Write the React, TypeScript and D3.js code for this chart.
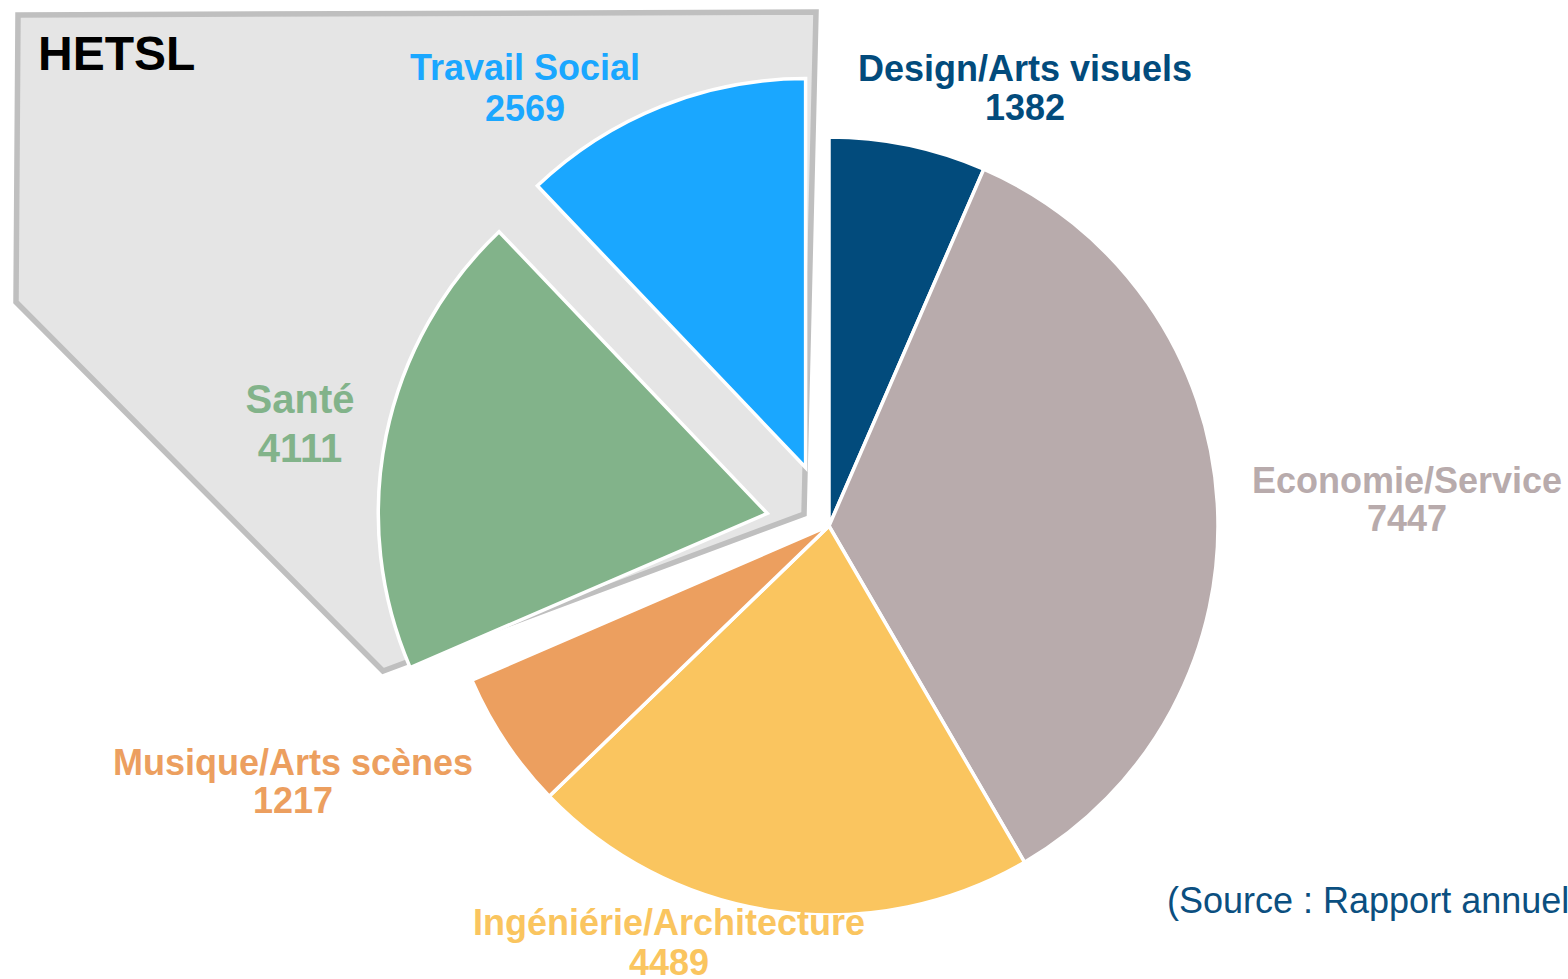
import React from "react";
import * as d3 from "d3";

const categories = [
  "Design/Arts visuels",
  "Economie/Service",
  "Ingéniérie/Architecture",
  "Musique/Arts scènes",
  "Santé",
  "Travail Social",
];
const values = [1382, 7447, 4489, 1217, 4111, 2569];
const exploded = [false, false, false, false, true, true];
const colors = ["#024B7C", "#B8ABAC", "#FAC55F", "#EC9F5F", "#82B38A", "#1AA7FF"];

const groupLabel = "HETSL";
const sourceText = "(Source : Rapport annuel";

// label layout: [centerX, baseline1, lineGap, fontSize]
const labelLayout: Record<string, [number, number, number, number]> = {
  "Design/Arts visuels": [1025, 81, 39, 36],
  "Economie/Service": [1407, 493, 38, 36],
  "Ingéniérie/Architecture": [669, 935, 40, 36],
  "Musique/Arts scènes": [293, 775, 38, 36],
  "Santé": [300, 413, 49, 40],
  "Travail Social": [525, 80, 41, 36],
};

const W = 1568;
const H = 979;
const CX = 829;
const CY = 526;
const R = 389;
const EXPLODE = 63;

const FONT = "'Liberation Sans', Arial, Helvetica, sans-serif";

export default function App() {
  const pie = d3
    .pie<number>()
    .sort(null)
    .startAngle(0)
    .endAngle(2 * Math.PI)
    .value((d) => d);
  const arcs = pie(values);
  const arc = d3.arc<d3.PieArcDatum<number>>().innerRadius(0).outerRadius(R);

  const polyPts: [number, number][] = [
    [18, 15],
    [816, 12],
    [804, 514],
    [383, 671],
    [16, 302],
  ];
  const poly = d3.line()(polyPts.concat([polyPts[0]])) as string;

  return (
    <svg
      width={W}
      height={H}
      style={{ position: "absolute", left: 0, top: 0, display: "block", background: "#fff" }}
    >
      <path d={poly + "Z"} fill="#E5E5E5" stroke="#BFBFBF" strokeWidth={5.5} strokeLinejoin="miter" />
      <text x={38} y={70} fontFamily={FONT} fontWeight="bold" fontSize={48} fill="#000">
        {groupLabel}
      </text>
      <g transform={`translate(${CX},${CY})`}>
        {arcs.map((a, i) => {
          const mid = (a.startAngle + a.endAngle) / 2;
          const d = exploded[i] ? EXPLODE : 0;
          const tx = Math.sin(mid) * d;
          const ty = -Math.cos(mid) * d;
          return (
            <path
              key={categories[i]}
              d={arc(a) as string}
              transform={`translate(${tx},${ty})`}
              fill={colors[i]}
              stroke="#fff"
              strokeWidth={3.5}
              strokeLinejoin="miter"
            />
          );
        })}
      </g>
      {categories.map((c, i) => {
        const [x, y, gap, fs] = labelLayout[c];
        return (
          <text
            key={c}
            x={x}
            y={y}
            textAnchor="middle"
            fontFamily={FONT}
            fontWeight="bold"
            fontSize={fs}
            fill={colors[i]}
          >
            <tspan x={x} y={y}>{c}</tspan>
            <tspan x={x} y={y + gap}>{values[i]}</tspan>
          </text>
        );
      })}
      <text x={1167} y={913} fontFamily={FONT} fontSize={36} fill="#0B4F80">
        {sourceText}
      </text>
    </svg>
  );
}
